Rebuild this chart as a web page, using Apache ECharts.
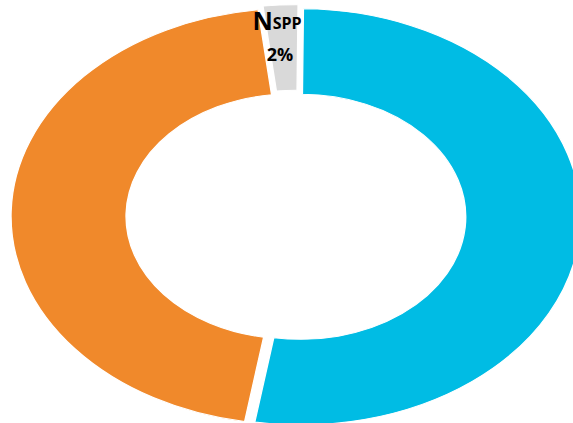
<!DOCTYPE html>
<html>
<head>
<meta charset="utf-8">
<script src="https://cdn.jsdelivr.net/npm/echarts@6/dist/echarts.min.js"></script>
<style>
  html, body { margin: 0; padding: 0; background: #fff; overflow: hidden; }
  #wrap { position: relative; width: 573px; height: 423px; overflow: hidden; }
  #pie { position: absolute; left: 0px; top: 0; width: 440px; height: 440px;
         transform: scaleX(1.345); transform-origin: 0 0; }
  #lab { position: absolute; left: 0; top: 0; width: 573px; height: 423px; pointer-events: none; }
</style>
</head>
<body>
<div id="wrap">
  <div id="pie"></div>
  <div id="lab"></div>
</div>
<script>
// Data
const categories = ['Slice 1', 'Slice 2', 'NSPP'];
const values = [52.5, 45.5, 2];
const colors = ['#00BCE4', '#F0892B', '#D9D9D9'];
const labelIndex = 2;

const pie = echarts.init(document.getElementById('pie'), null, { renderer: 'svg' });
pie.setOption({
  animation: false,
  series: [{
    type: 'pie',
    center: [220, 216.5],
    radius: [122.5, 208],
    startAngle: 89.5,
    clockwise: true,
    selectedMode: 'multiple',
    selectedOffset: 3.8,
    label: { show: false },
    labelLine: { show: false },
    itemStyle: { borderColor: '#ffffff', borderWidth: 1 },
    emphasis: { disabled: true },
    data: categories.map((c, i) => ({ name: c, value: values[i], selected: true, itemStyle: { color: colors[i] } }))
  }]
});

const lab = echarts.init(document.getElementById('lab'), null, { renderer: 'svg' });
const nm = categories[labelIndex];
const font = 'Open Sans';
lab.setOption({
  animation: false,
  graphic: [{
    type: 'text',
    x: 277,
    y: 2,
    style: {
      text: '{n|' + nm.charAt(0) + '}{s|' + nm.slice(1) + '}',
      align: 'center',
      verticalAlign: 'top',
      rich: {
        n: { fontFamily: font, fontWeight: 'bold', fontSize: 25, lineHeight: 30, verticalAlign: 'bottom', fill: '#000' },
        s: { fontFamily: font, fontWeight: 'bold', fontSize: 16, lineHeight: 16, verticalAlign: 'bottom', padding: [0, 0, 1, 0], fill: '#000' }
      }
    }
  }, {
    type: 'text',
    x: 280,
    y: 39,
    style: {
      text: values[labelIndex] + '%',
      align: 'center',
      verticalAlign: 'top',
      fontFamily: font, fontWeight: 'bold', fontSize: 18, lineHeight: 30, fill: '#000'
    }
  }]
});
</script>
</body>
</html>
